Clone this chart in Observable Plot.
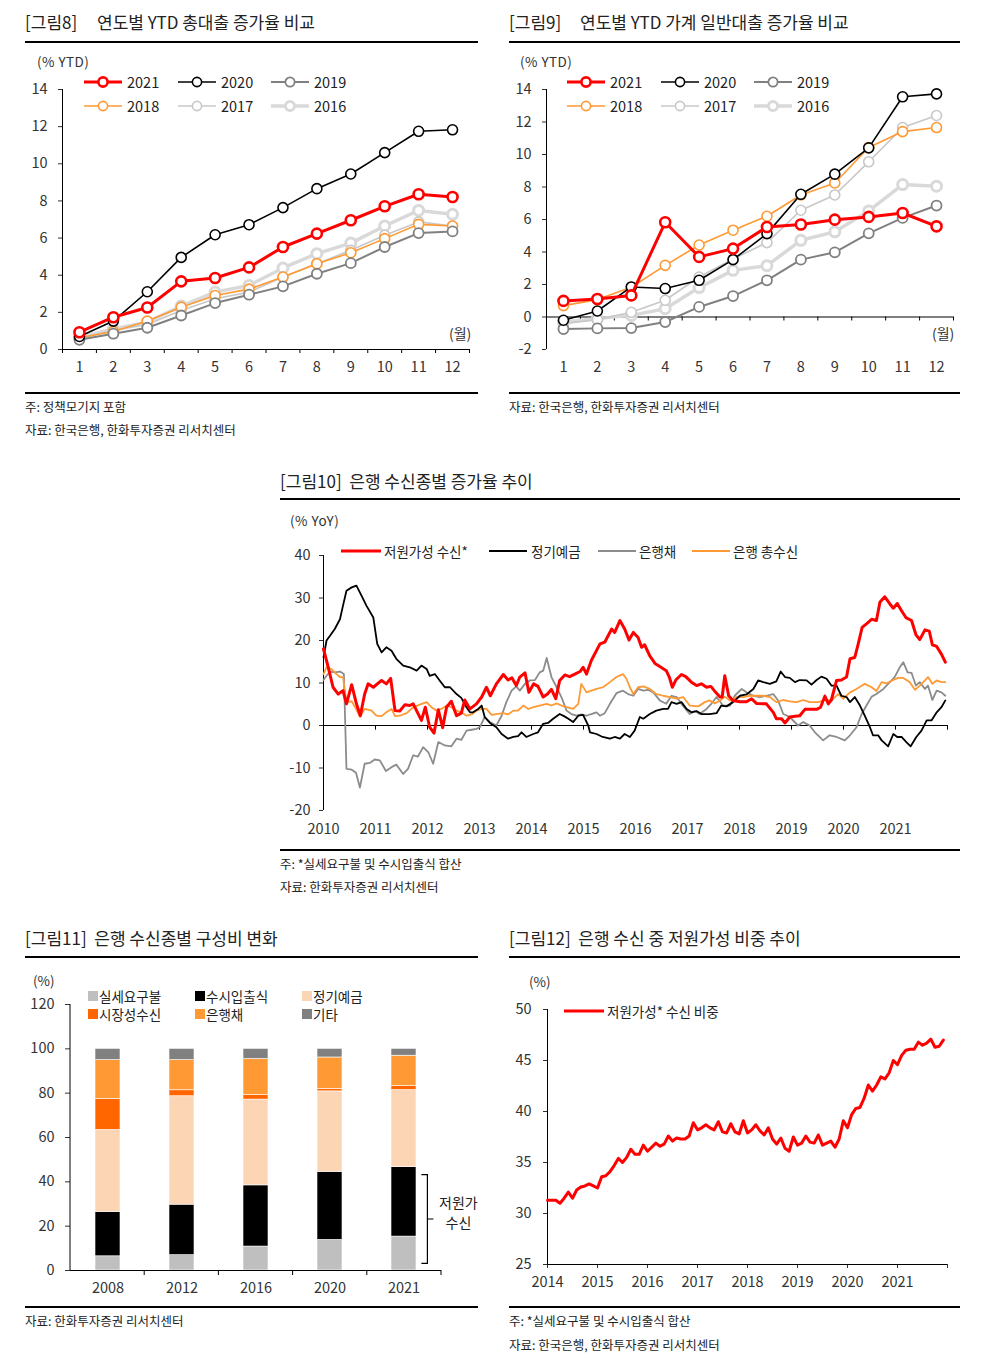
<!DOCTYPE html>
<html><head><meta charset="utf-8">
<script src="https://cdn.jsdelivr.net/npm/d3@7"></script>
<script src="https://cdn.jsdelivr.net/npm/@observablehq/plot@0.6"></script>
<style>
body{margin:0;background:#fff;font-family:"Noto Sans CJK KR","Noto Sans",sans-serif;color:#222}
#page{position:relative;width:983px;height:1362px;overflow:hidden;background:#fff}
</style></head><body><div id="page"></div>
<script>
// ---------- DATA ----------
// Fig 8: YTD total loan growth (%), months 1..12
const ytdMonths = [1,2,3,4,5,6,7,8,9,10,11,12];
const loan2021 = [0.93,1.74,2.26,3.67,3.85,4.42,5.52,6.24,6.96,7.71,8.36,8.21];
const loan2020 = [0.70,1.53,3.11,4.96,6.18,6.72,7.64,8.66,9.45,10.6,11.75,11.83];
const loan2019 = [0.52,0.85,1.17,1.83,2.50,2.95,3.40,4.08,4.65,5.52,6.27,6.36];
const loan2018 = [0.63,0.97,1.53,2.28,2.91,3.25,3.90,4.62,5.21,5.97,6.74,6.65];
const loan2017 = [0.59,1.02,1.35,2.10,2.73,3.09,3.90,4.62,5.34,6.15,6.87,6.65];
const loan2016 = [0.66,1.10,1.47,2.34,3.09,3.45,4.39,5.16,5.73,6.65,7.49,7.28];
// Fig 9: YTD household general loan growth (%)
const hh2021 = [0.99,1.11,1.33,5.83,3.70,4.21,5.54,5.69,5.99,6.16,6.40,5.58];
const hh2020 = [-0.20,0.37,1.85,1.75,2.26,3.53,5.13,7.55,8.79,10.41,13.55,13.73];
const hh2019 = [-0.74,-0.70,-0.68,-0.31,0.62,1.29,2.26,3.53,3.98,5.15,6.10,6.86];
const hh2018 = [0.70,1.07,1.83,3.18,4.43,5.34,6.20,7.51,8.25,10.43,11.41,11.66];
const hh2017 = [-0.41,-0.16,0.29,1.03,2.46,3.57,4.58,6.57,7.51,9.55,11.66,12.40];
const hh2016 = [-0.31,-0.10,0.10,0.51,1.81,2.87,3.16,4.72,5.24,6.53,8.15,8.05];
const ytdYears = ["2021","2020","2019","2018","2017","2016"];
const fig8Ticks = [0,2,4,6,8,10,12,14];
const fig9Ticks = [-2,0,2,4,6,8,10,12,14];

// Fig 10: YoY growth (%), [months since Jan 2010, value]
const lowCostPts = [[0,18.0],[1.1,13.7],[2.2,9.0],[3.4,7.4],[4.5,8.2],[5.3,5.1],[6.5,9.6],[7.6,5.1],[8.5,2.3],[9.5,7.4],[10.3,9.8],[11.5,9.0],[13.4,10.6],[14.5,9.8],[15.5,11.1],[16.5,3.5],[17.6,3.4],[18.8,4.9],[19.9,4.7],[20.7,5.1],[22.6,1.2],[23.5,4.3],[24.5,-0.4],[25.5,-1.8],[26.5,3.7],[27.5,-0.5],[28.4,4.3],[29.5,5.7],[30.7,2.3],[31.8,2.9],[32.6,6.0],[33.8,3.9],[35.3,5.1],[36.5,6.7],[37.6,9.0],[38.5,7.0],[39.9,9.8],[41.5,12.0],[42.6,10.7],[43.5,11.2],[44.5,9.4],[45.3,11.4],[46.5,12.4],[47.4,7.8],[48.5,9.8],[49.5,9.2],[50.7,6.7],[51.7,7.4],[52.6,8.5],[53.6,6.3],[54.5,10.6],[55.7,11.9],[56.8,11.5],[58.0,12.1],[59.2,12.7],[59.9,13.7],[60.7,12.1],[61.8,15.3],[63.8,19.2],[64.9,19.6],[66.5,22.7],[67.2,21.9],[68.4,24.7],[69.5,22.7],[70.5,20.1],[71.5,21.9],[72.6,20.7],[73.4,18.4],[74.1,19.0],[75.3,16.4],[76.5,14.6],[77.6,13.9],[79.1,12.9],[79.8,11.4],[80.5,9.0],[81.3,10.7],[82.6,12.0],[83.6,11.5],[84.9,10.2],[86.1,9.4],[87.2,9.8],[88.4,9.0],[89.4,9.2],[90.5,7.8],[91.5,6.7],[92.0,6.7],[92.6,11.7],[93.5,7.0],[94.5,5.9],[96.1,5.6],[97.6,5.6],[98.8,6.3],[99.9,5.2],[102.2,5.1],[103.8,3.1],[104.5,1.6],[105.7,1.6],[106.5,0.6],[107.6,2.0],[108.8,2.2],[109.9,2.3],[111.1,3.8],[112.2,3.8],[113.8,3.8],[114.7,4.3],[115.7,6.9],[116.5,5.1],[117.2,6.0],[118.4,10.6],[119.5,10.7],[120.7,11.4],[121.5,15.7],[122.6,16.0],[123.4,19.2],[124.3,23.1],[125.3,23.9],[126.5,25.0],[127.6,24.7],[128.4,29.0],[129.5,30.3],[130.7,28.6],[131.5,27.6],[132.4,28.7],[133.4,27.0],[134.4,25.4],[135.7,24.7],[136.7,21.4],[137.6,20.2],[138.8,22.5],[139.8,22.2],[140.5,19.0],[141.5,18.6],[142.6,16.8],[143.5,14.9]];
const timeDepPts = [[0,16.0],[0.7,20.0],[1.5,21.1],[2.6,22.7],[3.8,25.0],[4.5,28.2],[5.3,31.7],[6.5,32.5],[7.6,32.9],[8.8,30.5],[9.9,28.2],[11.5,25.4],[12.4,19.2],[13.4,17.2],[14.5,18.4],[15.7,17.6],[16.8,15.7],[18.4,14.1],[19.9,13.7],[21.5,12.9],[22.6,14.1],[23.8,13.3],[24.5,11.7],[25.7,12.1],[26.8,10.6],[28.0,9.0],[29.2,9.0],[30.7,7.4],[31.8,6.5],[33.0,4.3],[33.8,3.1],[34.5,3.1],[35.7,3.9],[36.5,4.7],[37.2,2.0],[38.4,0.6],[39.9,-0.4],[41.1,-2.0],[42.6,-3.1],[43.8,-2.7],[44.9,-2.5],[45.7,-1.6],[46.8,-2.7],[48.4,-2.0],[49.5,-1.6],[50.7,0.4],[51.8,0.6],[53.0,1.6],[54.5,2.7],[55.5,2.2],[56.5,1.6],[57.6,0.8],[58.8,2.3],[59.9,2.5],[61.1,0],[61.5,-1.6],[63.0,-2.0],[64.2,-2.6],[66.1,-3.1],[67.2,-2.7],[68.4,-3.1],[69.5,-2.0],[70.7,-2.7],[71.8,-1.2],[73.0,2.0],[73.8,1.6],[75.3,2.7],[76.8,3.5],[78.4,3.9],[79.5,3.9],[80.3,5.5],[81.5,5.1],[82.6,5.5],[83.8,3.9],[84.9,3.1],[86.1,3.4],[87.2,2.7],[89.1,2.7],[90.7,2.9],[91.8,4.7],[93.0,4.5],[94.5,5.5],[96.1,7.0],[97.6,7.3],[99.2,8.6],[100.3,10.6],[101.5,10.2],[103.0,9.8],[104.5,10.4],[105.5,12.7],[106.5,11.4],[107.6,11.2],[108.8,10.2],[109.9,10.7],[111.5,10.6],[112.6,9.6],[113.8,10.7],[114.9,11.5],[116.1,11.0],[117.2,9.4],[118.4,9.4],[119.5,7.0],[120.7,6.7],[121.5,5.5],[122.6,6.7],[123.8,4.7],[124.9,2.3],[126.1,-0.4],[126.8,-2.3],[128.0,-2.3],[128.8,-3.5],[130.3,-4.9],[131.5,-2.0],[132.4,-2.7],[133.4,-2.7],[134.5,-3.9],[135.5,-4.9],[136.8,-2.7],[138.0,-1.2],[139.2,1.2],[140.3,1.2],[141.5,3.1],[142.6,4.3],[143.5,5.9]];
const bankBondPts = [[0,10.7],[0.7,11.7],[1.5,12.7],[2.6,12.5],[3.8,12.7],[4.7,12.1],[5.3,-10.2],[6.5,-10.4],[7.5,-11.1],[8.4,-14.6],[9.5,-9.0],[10.7,-8.8],[11.8,-8.0],[13.0,-8.2],[14.4,-10.7],[15.7,-9.8],[16.8,-9.2],[18.4,-11.4],[19.5,-10.2],[20.7,-7.0],[21.8,-7.3],[23.0,-5.1],[24.2,-6.3],[25.3,-9.0],[26.5,-3.9],[28.0,-4.7],[29.5,-4.9],[30.7,-3.1],[31.8,-3.4],[33.0,-1.2],[34.2,-1.0],[35.3,-0.8],[36.1,-0.4],[37.2,2.0],[38.4,0.8],[39.9,0],[41.1,2.3],[42.2,5.5],[43.4,8.2],[44.5,9.2],[45.3,8.2],[46.5,9.8],[47.6,10.6],[48.8,10.7],[49.9,12.5],[50.7,12.9],[51.5,15.9],[52.6,11.4],[53.8,9.0],[54.9,6.7],[56.1,3.5],[57.2,2.7],[58.4,2.3],[59.5,2.6],[60.7,2.3],[61.8,2.7],[63.0,3.1],[63.8,2.3],[64.9,2.9],[66.1,5.1],[67.6,7.6],[69.1,8.2],[70.3,7.4],[71.5,7.0],[72.6,8.6],[73.8,8.2],[74.9,8.4],[76.1,7.8],[77.6,5.9],[79.1,5.1],[80.3,7.0],[81.5,6.7],[82.6,5.1],[84.5,2.7],[85.7,3.4],[86.8,2.7],[88.4,3.9],[89.5,5.1],[90.7,6.7],[92.2,4.7],[93.8,4.7],[94.9,7.0],[96.5,8.6],[97.6,7.8],[99.2,7.0],[100.7,6.7],[102.2,7.0],[103.8,7.4],[104.9,5.9],[106.1,2.7],[107.6,2.0],[109.5,0],[110.7,0.8],[112.2,0],[113.4,-1.6],[115.3,-3.5],[116.8,-2.3],[118.4,-2.7],[120.3,-3.5],[121.5,-2.3],[123.0,-0.4],[124.2,2.7],[125.3,4.7],[126.5,6.8],[127.6,7.4],[129.2,8.6],[130.7,10.2],[131.8,11.4],[133.0,13.7],[133.8,14.9],[134.8,12.5],[135.7,12.4],[136.7,9.4],[137.6,10.2],[138.8,8.6],[139.5,9.4],[140.5,6.0],[141.5,8.2],[142.6,7.8],[143.5,7.0]];
const totalDepPts = [[0,12.1],[0.7,13.7],[1.8,13.3],[3.0,12.1],[3.8,11.4],[4.5,11.4],[5.3,5.5],[6.5,5.7],[7.5,3.9],[8.4,2.1],[9.5,3.9],[11.1,3.5],[12.2,2.3],[13.4,2.2],[14.5,3.1],[15.7,3.9],[16.5,2.2],[17.6,2.3],[19.2,2.9],[20.7,4.3],[22.2,4.9],[23.8,5.5],[24.9,4.3],[26.1,3.5],[27.2,3.9],[28.4,4.7],[29.5,4.3],[30.7,3.5],[31.8,3.1],[33.0,2.3],[34.2,2.6],[35.3,3.5],[36.5,3.9],[37.6,3.9],[38.8,2.5],[39.9,2.7],[41.5,2.9],[42.6,2.6],[43.8,3.5],[44.9,3.5],[46.1,4.7],[47.3,3.9],[48.4,4.3],[49.9,4.7],[51.5,5.1],[52.6,4.7],[53.8,5.2],[54.9,4.7],[56.1,4.3],[57.6,3.9],[58.8,5.1],[59.5,9.8],[60.7,7.8],[61.8,8.2],[63.0,8.6],[64.5,9.0],[66.1,10.2],[67.6,11.4],[69.1,12.1],[69.9,11.0],[70.7,9.0],[71.5,7.4],[72.6,9.0],[73.8,9.2],[75.3,8.6],[76.8,7.4],[78.4,7.0],[79.9,6.7],[81.5,6.3],[83.0,6.7],[84.5,4.7],[86.5,4.5],[88.0,5.5],[89.1,5.9],[90.3,5.2],[91.5,5.9],[92.6,6.8],[93.8,5.9],[95.3,6.7],[96.8,6.7],[98.4,7.0],[99.9,7.0],[101.5,7.0],[103.0,6.7],[104.5,5.5],[106.1,6.0],[107.6,5.7],[109.2,5.5],[110.7,6.0],[112.2,5.5],[114.2,5.5],[115.7,6.0],[117.2,5.9],[118.8,7.4],[119.9,6.3],[121.5,7.8],[123.0,8.6],[124.9,9.8],[126.5,9.0],[127.6,8.1],[128.8,10.2],[129.9,9.9],[131.5,10.7],[132.6,11.2],[133.8,11.2],[135.3,10.2],[136.5,8.4],[137.6,9.4],[138.8,10.6],[139.5,11.4],[140.5,9.8],[141.5,10.6],[142.6,10.2],[143.5,10.2]];
const fig10Years = [2010,2011,2012,2013,2014,2015,2016,2017,2018,2019,2020,2021];
const fig10Ticks = [-20,-10,0,10,20,30,40];

// Fig 11: deposit composition (%)
const compYears = ["2008","2012","2016","2020","2021"];
const compCats = ["실세요구불","수시입출식","정기예금","시장성수신","은행채","기타"];
const compDemand  = [6.4, 6.9, 10.8, 13.8, 15.3];
const compSavings = [20.0, 22.8, 27.6, 30.7, 31.3];
const compTime    = [37.0, 48.9, 38.7, 36.3, 34.8];
const compMarket  = [14.0, 2.7, 2.1, 1.1, 1.8];
const compBond    = [17.5, 13.6, 16.2, 14.2, 13.7];
const compOther   = [5.1, 5.1, 4.6, 3.9, 3.1];
const fig11Ticks = [0,20,40,60,80,100,120];
const bracketSpan = [3, 43];

// Fig 12: low-cost deposit share (%), monthly from Jan 2014
const shareStart = 2014;
const lowCostShare = [31.3,31.3,31.3,31.0,31.5,32.1,31.5,32.3,32.6,32.7,32.9,32.7,32.5,33.6,33.7,34.1,34.7,35.4,35.0,35.5,36.3,35.8,35.8,36.7,36.1,36.5,36.9,36.6,36.8,37.6,37.1,37.4,37.3,37.3,37.6,38.9,38.2,38.4,38.7,38.4,38.2,39.0,38.0,37.9,38.8,38.0,37.8,39.1,37.9,38.2,38.7,38.1,37.7,38.4,37.3,36.8,37.4,36.4,36.1,37.5,36.7,36.9,37.6,37.0,36.9,37.7,36.7,36.9,37.1,36.5,37.3,39.1,38.4,39.7,40.3,40.4,41.3,42.6,42.0,42.6,43.4,43.2,43.8,45.0,44.6,45.5,46.0,46.1,46.1,46.8,46.5,46.7,47.1,46.3,46.4,47.0];
const fig12Years = [2014,2015,2016,2017,2018,2019,2020,2021];
const fig12Ticks = [25,30,35,40,45,50];

// ---------- HELPERS ----------
const FONT = '"Noto Sans CJK KR","Noto Sans",sans-serif';
const page = document.getElementById("page");
const fmt = d => String(d); // plain hyphen for negatives
function label(str, x, yc, size, o = {}) {
  const d = document.createElement("div");
  d.textContent = str;
  Object.assign(d.style, {position:"absolute", left:x+"px", top:(yc - size*0.62)+"px",
    fontSize:size+"px", lineHeight:(size*1.24)+"px", whiteSpace:"pre",
    color:o.color || "#222", letterSpacing:(o.ls||0)+"px"});
  if (o.anchor === "middle") d.style.transform = "translateX(-50%)";
  page.append(d); return d;
}
function hrule(x1, x2, y) {
  const d = document.createElement("div");
  Object.assign(d.style, {position:"absolute", left:x1+"px", top:(y-0.75)+"px", width:(x2-x1)+"px", height:"1.3px", background:"#000"});
  page.append(d);
}
function place(node, x, y) {
  Object.assign(node.style, {position:"absolute", left:x+"px", top:y+"px"});
  page.append(node);
}
function legendSample(x, yc, w, color, lw, dot, dotW) {
  const s = d3.create("svg").attr("width", w).attr("height", 14)
    .style("position","absolute").style("left", x+"px").style("top", (yc-7)+"px").style("overflow","visible");
  s.append("line").attr("x1",0).attr("x2",w).attr("y1",7).attr("y2",7).attr("stroke",color).attr("stroke-width",lw);
  if (dot) s.append("circle").attr("cx",w/2).attr("cy",7).attr("r",4.6).attr("fill","#fff").attr("stroke",color).attr("stroke-width",dotW);
  page.append(s.node());
}
function legendSwatch(x, yc, color) {
  const d = document.createElement("div");
  Object.assign(d.style, {position:"absolute", left:x+"px", top:(yc-5)+"px", width:"10px", height:"10px", background:color});
  page.append(d);
}
const plotStyle = {fontFamily: FONT, fontSize: "14.5px", color: "#333", background: "transparent", overflow: "visible"};

// ---------- FIG 8 / FIG 9 ----------
const ytdStyle = {
  "2021": {stroke:"#ff0000", lw:3, dw:2.6},
  "2020": {stroke:"#000000", lw:1.6, dw:1.6},
  "2019": {stroke:"#808080", lw:2, dw:1.8},
  "2018": {stroke:"#ff9933", lw:1.6, dw:1.6},
  "2017": {stroke:"#c8c8c8", lw:1.6, dw:1.6},
  "2016": {stroke:"#d9d9d9", lw:3.5, dw:3}
};
function ytdChart(seriesArrays, yDomain, yTicks) {
  const halfTicks = d3.range(0.5, 13, 1);
  const tl = (yDomain[1] - yDomain[0]) * 4 / 260;
  const marks = [
    Plot.axisY({ticks: yTicks, tickFormat: fmt, tickSize: 4, tickPadding: 11, label: null}),
    Plot.axisX({ticks: ytdMonths, tickFormat: fmt, tickSize: 0, tickPadding: 12, label: null}),
    Plot.ruleX([halfTicks[0]], {stroke: "#000"}),
    Plot.ruleY([0], {stroke: "#000"}),
    Plot.ruleX(halfTicks, {y1: 0, y2: -tl, stroke: "#000"})
  ];
  const drawOrder = ["2016","2017","2018","2019","2020","2021"];
  for (const yr of drawOrder) {
    const st = ytdStyle[yr];
    const rows = ytdMonths.map((m, i) => ({m, v: seriesArrays[yr][i]}));
    marks.push(Plot.line(rows, {x: "m", y: "v", stroke: st.stroke, strokeWidth: st.lw}));
    marks.push(Plot.dot(rows, {x: "m", y: "v", r: 5, fill: "#fff", stroke: st.stroke, strokeWidth: st.dw}));
  }
  return Plot.plot({width: 455, height: 310, marginLeft: 37, marginRight: 11, marginTop: 19, marginBottom: 31,
    style: plotStyle, x: {domain: [0.5, 12.5]}, y: {domain: yDomain}, marks});
}
function ytdLegend(dx) {
  const pos = {"2021":[84,82],"2020":[178,82],"2019":[271,82],"2018":[84,106],"2017":[178,106],"2016":[271,106]};
  for (const yr of ytdYears) {
    const [x, y] = pos[yr]; const st = ytdStyle[yr];
    legendSample(x+dx, y, 38, st.stroke, st.lw, true, st.dw);
    label(yr, x+dx+43, y, 14.5, {color:"#222"});
  }
}
// Fig 8
label("[그림8]", 25, 22, 17);
label("연도별 YTD 총대출 증가율 비교", 97, 22, 17);
hrule(25, 478, 42);
label("(% YTD)", 37, 61, 13.5, {color:"#333", ls:0.5});
place(ytdChart({"2021":loan2021,"2020":loan2020,"2019":loan2019,"2018":loan2018,"2017":loan2017,"2016":loan2016}, [0,14], fig8Ticks), 25, 70);
ytdLegend(0);
label("(월)", 449, 334, 14, {color:"#333"});
hrule(25, 478, 393);
label("주: 정책모기지 포함", 25, 407, 12.5);
label("자료: 한국은행, 한화투자증권 리서치센터", 25, 430, 12.5);
// Fig 9
label("[그림9]", 509, 22, 17);
label("연도별 YTD 가계 일반대출 증가율 비교", 580, 22, 17);
hrule(509, 960, 42);
label("(% YTD)", 520, 61, 13.5, {color:"#333", ls:0.5});
place(ytdChart({"2021":hh2021,"2020":hh2020,"2019":hh2019,"2018":hh2018,"2017":hh2017,"2016":hh2016}, [-2,14], fig9Ticks), 509, 70);
ytdLegend(483);
label("(월)", 932, 334, 14, {color:"#333"});
hrule(509, 960, 393);
label("자료: 한국은행, 한화투자증권 리서치센터", 509, 407, 12.5);

// ---------- FIG 10 ----------
label("[그림10]  은행 수신종별 증가율 추이", 280, 481, 17);
hrule(280, 960, 499);
label("(% YoY)", 290, 520, 13.5, {color:"#333", ls:0.5});
const fig10Series = [
  {name: "은행채", pts: bankBondPts, color: "#8c8c8c", lw: 1.8},
  {name: "은행 총수신", pts: totalDepPts, color: "#ff9933", lw: 1.8},
  {name: "정기예금", pts: timeDepPts, color: "#000000", lw: 1.8},
  {name: "저원가성 수신*", pts: lowCostPts, color: "#ff0000", lw: 3}
];
const fig10Marks = [
  Plot.axisY({ticks: fig10Ticks, tickFormat: fmt, tickSize: 4, tickPadding: 9, label: null}),
  Plot.axisX({ticks: fig10Years, tickFormat: fmt, tickSize: 0, tickPadding: 13, label: null}),
  Plot.ruleX([fig10Years[0]], {stroke: "#000"}),
  Plot.ruleY([0], {stroke: "#000"}),
  Plot.ruleX(d3.range(fig10Years[0], fig10Years[fig10Years.length-1] + 2), {y1: 0, y2: -1.1, stroke: "#000"})
];
for (const s of fig10Series) {
  fig10Marks.push(Plot.line(s.pts, {x: d => fig10Years[0] + d[0]/12, y: d => d[1], stroke: s.color, strokeWidth: s.lw, strokeLinejoin: "round"}));
}
place(Plot.plot({width: 680, height: 300, marginLeft: 43, marginRight: 13, marginTop: 15, marginBottom: 30,
  style: plotStyle, x: {domain: [2010, 2022]}, y: {domain: [-20, 40]}, marks: fig10Marks}), 280, 540);
legendSample(341, 551, 40, "#ff0000", 3, false);
label("저원가성 수신*", 384, 551, 13.5);
legendSample(489, 551, 38, "#000000", 1.8, false);
label("정기예금", 531, 551, 13.5);
legendSample(598, 551, 38, "#8c8c8c", 1.8, false);
label("은행채", 639, 551, 13.5);
legendSample(692, 551, 38, "#ff9933", 1.8, false);
label("은행 총수신", 733, 551, 13.5);
hrule(280, 960, 850);
label("주: *실세요구불 및 수시입출식 합산", 280, 864, 12.5);
label("자료: 한화투자증권 리서치센터", 280, 887, 12.5);

// ---------- FIG 11 ----------
label("[그림11]  은행 수신종별 구성비 변화", 25, 938, 17);
hrule(25, 478, 957);
label("(%)", 33, 980, 13.5, {color:"#333"});
const compColors = ["#bfbfbf","#000000","#fcd5b5","#ff6600","#ff9933","#808080"];
const compSeries = [compDemand, compSavings, compTime, compMarket, compBond, compOther];
const compRows = [];
compYears.forEach((yr, i) => compCats.forEach((c, j) => compRows.push({year: yr, cat: c, value: compSeries[j][i]})));
const inner = 0.663;
function bandTicks(index, scales, values, dims) {
  const n = compYears.length;
  const step = (dims.width - dims.marginLeft - dims.marginRight) / n;
  const y0 = dims.height - dims.marginBottom;
  const g = d3.create("svg:g").attr("stroke", "#000");
  for (let k = 1; k <= n; k++) {
    const x = dims.marginLeft + k*step;
    g.append("line").attr("x1", x).attr("x2", x).attr("y1", y0).attr("y2", y0+5);
  }
  return g.node();
}
function bracket(index, scales, values, dims) {
  const n = compYears.length;
  const step = (dims.width - dims.marginLeft - dims.marginRight) / n;
  const cx = dims.marginLeft + (n - 0.5) * step;
  const xr = cx + step*(1-inner)/2;
  const yTop = scales.y(bracketSpan[1]), yBot = scales.y(bracketSpan[0]);
  const yMid = (yTop + yBot)/2;
  const g = d3.create("svg:g");
  g.append("path").attr("fill","none").attr("stroke","#000").attr("stroke-width",1.2)
    .attr("d", `M${xr+5},${yTop}H${xr+11}V${yBot}H${xr+5}M${xr+11},${yMid}H${xr+17}`);
  g.append("text").attr("x", xr+42).attr("y", yMid-16).attr("text-anchor","middle").attr("dy","0.35em").attr("fill","#222").attr("font-size",14).text("저원가");
  g.append("text").attr("x", xr+42).attr("y", yMid+4).attr("text-anchor","middle").attr("dy","0.35em").attr("fill","#222").attr("font-size",14).text("수신");
  return g.node();
}
place(Plot.plot({width: 460, height: 310, marginLeft: 45, marginRight: 44, marginTop: 14, marginBottom: 30,
  style: plotStyle,
  x: {domain: compYears, paddingInner: inner, paddingOuter: inner/2},
  y: {domain: [0, 120]},
  color: {domain: compCats, range: compColors},
  marks: [
    Plot.barY(compRows, {x: "year", y: "value", fill: "cat", order: compCats, stroke: "#fff", strokeWidth: 0.6}),
    Plot.axisY({ticks: fig11Ticks, tickFormat: fmt, tickSize: 5, tickPadding: 11, label: null}),
    Plot.axisX({tickSize: 0, tickPadding: 12, label: null}),
    Plot.ruleY([0], {stroke: "#000"}),
    bandTicks,
    bracket,
    (index, scales, values, dims) => {
      const g = d3.create("svg:g");
      g.append("line").attr("x1", dims.marginLeft).attr("x2", dims.marginLeft)
        .attr("y1", dims.marginTop).attr("y2", dims.height - dims.marginBottom).attr("stroke", "#000");
      return g.node();
    }
  ]}), 25, 990);
const legPos = [[88,996],[195,996],[302,996],[88,1014],[195,1014],[302,1014]];
compCats.forEach((c, j) => {
  legendSwatch(legPos[j][0], legPos[j][1], compColors[j]);
  label(c, legPos[j][0]+11, legPos[j][1], 13.5);
});
hrule(25, 478, 1307);
label("자료: 한화투자증권 리서치센터", 25, 1321, 12.5);

// ---------- FIG 12 ----------
label("[그림12]  은행 수신 중 저원가성 비중 추이", 509, 938, 17);
hrule(509, 960, 957);
label("(%)", 529, 981, 13.5, {color:"#333"});
const shareRows = lowCostShare.map((v, i) => ({t: shareStart + i/12, v}));
place(Plot.plot({width: 455, height: 300, marginLeft: 42, marginRight: 13, marginTop: 14, marginBottom: 31,
  style: plotStyle,
  x: {domain: [fig12Years[0], fig12Years[fig12Years.length-1] + 1]},
  y: {domain: [fig12Ticks[0], fig12Ticks[fig12Ticks.length-1]]},
  marks: [
    Plot.axisY({ticks: fig12Ticks, tickFormat: fmt, tickSize: 4, tickPadding: 12, label: null}),
    Plot.axisX({ticks: [...fig12Years, fig12Years[fig12Years.length-1]+1], tickFormat: d => fig12Years.includes(d) ? String(d) : "", tickSize: 4, tickPadding: 8, label: null}),
    Plot.ruleX([fig12Years[0]], {stroke: "#000"}),
    Plot.ruleY([fig12Ticks[0]], {stroke: "#000"}),
    Plot.line(shareRows, {x: "t", y: "v", stroke: "#ff0000", strokeWidth: 3, strokeLinejoin: "round"})
  ]}), 505, 995);
legendSample(564, 1011, 40, "#ff0000", 3, false);
label("저원가성* 수신 비중", 607, 1011, 13.5);
hrule(509, 960, 1307);
label("주: *실세요구불 및 수시입출식 합산", 509, 1321, 12.5);
label("자료: 한국은행, 한화투자증권 리서치센터", 509, 1345, 12.5);
</script>
</body></html>
